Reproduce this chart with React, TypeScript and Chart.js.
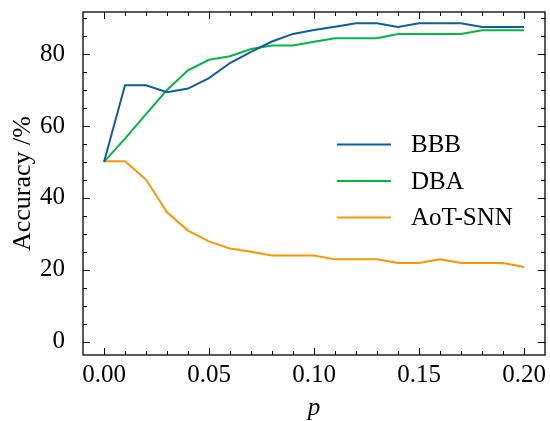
import React, { useEffect, useRef } from "react";
import { Chart, registerables } from "chart.js";

Chart.register(...registerables);

// Perturbation strength p
const P_VALUES = [
  0.0, 0.01, 0.02, 0.03, 0.04, 0.05, 0.06, 0.07, 0.08, 0.09, 0.1,
  0.11, 0.12, 0.13, 0.14, 0.15, 0.16, 0.17, 0.18, 0.19, 0.2,
];

// Accuracy (%) for each method
const BBB = [
  50.0, 71.3, 71.3, 69.4, 70.4, 73.3, 77.5, 80.6, 83.5, 85.6, 86.7,
  87.6, 88.6, 88.6, 87.5, 88.6, 88.6, 88.6, 87.5, 87.5, 87.5,
];
const DBA = [
  50.0, 56.5, 63.3, 70.0, 75.5, 78.4, 79.4, 81.4, 82.4, 82.4, 83.4,
  84.4, 84.4, 84.4, 85.6, 85.6, 85.6, 85.6, 86.6, 86.6, 86.6,
];
const AOT_SNN = [
  50.2, 50.2, 45.1, 36.0, 30.9, 27.9, 25.9, 25.0, 24.0, 24.0, 24.0,
  22.9, 22.9, 22.9, 21.9, 21.9, 22.9, 21.9, 21.9, 21.9, 20.8,
];

const SERIES_NAMES = ["BBB", "DBA", "AoT-SNN"];
const SERIES_COLORS = ["#0C5DA5", "#00B945", "#FF9500"];

const X_MAJOR = [0.0, 0.05, 0.1, 0.15, 0.2];
const Y_MAJOR = [0, 20, 40, 60, 80];

const FONT = "'Liberation Serif', 'Times New Roman', serif";
const FONT_SIZE = 25;

const zeroPadding = (s: any) => {
  s.paddingTop = 0;
  s.paddingBottom = 0;
  s.paddingLeft = 0;
  s.paddingRight = 0;
};

// Inward ticks on all four sides, the frame, and the legend inside the plot
const frameAndLegend = {
  id: "frameAndLegend",
  afterDraw(chart: any) {
    const { ctx, chartArea, scales } = chart;
    const { left, right, top, bottom } = chartArea;
    const x = scales.x;
    const y = scales.y;
    const MAJOR = 7;
    const MINOR = 4;
    ctx.save();
    ctx.strokeStyle = "#000";
    ctx.lineWidth = 1;

    const vTick = (px: number, len: number) => {
      const xx = Math.round(px) + 0.5;
      ctx.beginPath();
      ctx.moveTo(xx, bottom);
      ctx.lineTo(xx, bottom - len);
      ctx.moveTo(xx, top);
      ctx.lineTo(xx, top + len);
      ctx.stroke();
    };
    const hTick = (py: number, len: number) => {
      const yy = Math.round(py) + 0.5;
      ctx.beginPath();
      ctx.moveTo(left, yy);
      ctx.lineTo(left + len, yy);
      ctx.moveTo(right, yy);
      ctx.lineTo(right - len, yy);
      ctx.stroke();
    };

    for (let i = 0; i <= 20; i++) {
      const v = i / 100;
      vTick(x.getPixelForValue(v), i % 5 === 0 ? MAJOR : MINOR);
    }
    for (let v = 0; v <= 90; v += 5) {
      hTick(y.getPixelForValue(v), v % 20 === 0 ? MAJOR : MINOR);
    }

    ctx.lineWidth = 1.3;
    ctx.strokeRect(left, top, right - left, bottom - top);

    // Legend
    const ds = chart.data.datasets;
    const lineX0 = 337;
    const lineX1 = 391;
    const textX = 411;
    const rowY0 = 144.5;
    const rowGap = 36.5;
    ctx.font = `${FONT_SIZE}px ${FONT}`;
    ctx.textBaseline = "middle";
    ctx.textAlign = "left";
    ds.forEach((d: any, i: number) => {
      const ry = rowY0 + i * rowGap;
      ctx.strokeStyle = d.borderColor;
      ctx.lineWidth = 2;
      ctx.beginPath();
      ctx.moveTo(lineX0, ry);
      ctx.lineTo(lineX1, ry);
      ctx.stroke();
      ctx.fillStyle = "#000";
      ctx.fillText(d.label, textX, ry + 1);
    });
    ctx.restore();
  },
};

export default function App() {
  const canvasRef = useRef<HTMLCanvasElement | null>(null);

  useEffect(() => {
    document.body.style.margin = "0";
    const canvas = canvasRef.current;
    if (!canvas) return;
    const seriesValues = [BBB, DBA, AOT_SNN];
    const chart = new Chart(canvas, {
      type: "line",
      data: {
        datasets: seriesValues.map((vals, i) => ({
          label: SERIES_NAMES[i],
          data: P_VALUES.map((p, j) => ({ x: p, y: vals[j] })),
          borderColor: SERIES_COLORS[i],
          backgroundColor: SERIES_COLORS[i],
          borderWidth: 2,
          pointRadius: 0,
          tension: 0,
          fill: false,
        })),
      },
      options: {
        animation: false,
        responsive: false,
        devicePixelRatio: 1,
        layout: { padding: { left: 0, right: 5, top: 12, bottom: 0 } },
        plugins: {
          legend: { display: false },
          tooltip: { enabled: false },
        },
        scales: {
          x: {
            type: "linear",
            min: -0.01,
            max: 0.21,
            afterBuildTicks: (s: any) => {
              s.ticks = X_MAJOR.map((v) => ({ value: v }));
            },
            afterFit: (s: any) => {
              s.height = 66;
              zeroPadding(s);
            },
            ticks: {
              callback: (v: any) => Number(v).toFixed(2),
              font: { family: FONT, size: FONT_SIZE, lineHeight: 1.0 },
              color: "#000",
              padding: 0,
              maxRotation: 0,
              autoSkip: false,
            },
            grid: { display: false },
            border: { display: false },
            title: {
              display: true,
              text: "p",
              color: "#000",
              font: { family: FONT, size: FONT_SIZE, style: "italic", lineHeight: 1.0 },
              padding: { top: 0, bottom: 0 },
            },
          },
          y: {
            type: "linear",
            min: -3.7,
            max: 91.7,
            afterBuildTicks: (s: any) => {
              s.ticks = Y_MAJOR.map((v) => ({ value: v }));
            },
            afterFit: (s: any) => {
              s.width = 83;
              zeroPadding(s);
            },
            ticks: {
              font: { family: FONT, size: FONT_SIZE },
              color: "#000",
              padding: 10,
              autoSkip: false,
            },
            grid: { display: false },
            border: { display: false },
            title: {
              display: true,
              text: "Accuracy /%",
              color: "#000",
              font: { family: FONT, size: 26 },
              padding: { top: 8, bottom: 0 },
            },
          },
        },
      },
      plugins: [frameAndLegend],
    });
    return () => chart.destroy();
  }, []);

  return (
    <div style={{ position: "absolute", left: 0, top: 0, width: 550, height: 421 }}>
      <canvas ref={canvasRef} width={550} height={421} style={{ display: "block" }} />
    </div>
  );
}
